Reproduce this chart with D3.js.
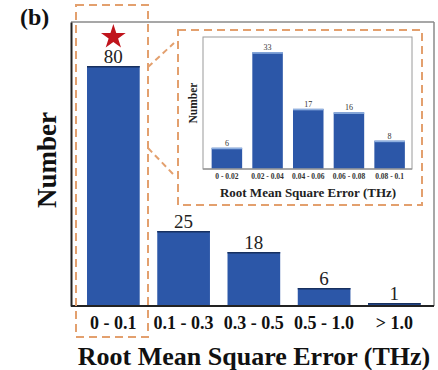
<!DOCTYPE html>
<html><head><meta charset="utf-8">
<script src="https://cdn.jsdelivr.net/npm/d3@7"></script>
<style>body{margin:0;background:#fff}svg{display:block}</style>
</head><body>
<svg id="c" width="438" height="370"></svg>
<script>
const mainCategories = ["0 - 0.1", "0.1 - 0.3", "0.3 - 0.5", "0.5 - 1.0", "> 1.0"];
const mainValues = [80, 25, 18, 6, 1];
const insetCategories = ["0 - 0.02", "0.02 - 0.04", "0.04 - 0.06", "0.06 - 0.08", "0.08 - 0.1"];
const insetValues = [6, 33, 17, 16, 8];

const svg = d3.select("#c");
const serif = "'Liberation Serif','Times New Roman',serif";
const barFill = "#2c57a8";
const orange = "#e3a06e";

// main plot
const L = 71, R = 434, T = 22, B = 306;
const x = d3.scaleBand().domain(mainCategories).range([L, 436.7]).paddingInner(0.25).paddingOuter(0.228);
const y = d3.scaleLinear().domain([0, 94.67]).range([B, T]);

// frame: top and right gray
svg.append("line").attr("x1", L).attr("x2", R).attr("y1", T).attr("y2", T).attr("stroke", "#8a8a8a").attr("stroke-width", 1.5);
svg.append("line").attr("x1", R).attr("x2", R).attr("y1", T).attr("y2", B).attr("stroke", "#8a8a8a").attr("stroke-width", 1.5);

// bars
svg.selectAll("rect.mb").data(mainValues).join("rect").attr("class", "mb")
  .attr("x", (d, i) => x(mainCategories[i])).attr("width", x.bandwidth())
  .attr("y", d => y(d)).attr("height", d => B - y(d)).attr("fill", barFill);
svg.selectAll("line.mt").data(mainValues).join("line").attr("class", "mt")
  .attr("x1", (d, i) => x(mainCategories[i])).attr("x2", (d, i) => x(mainCategories[i]) + x.bandwidth())
  .attr("y1", d => y(d) + 0.75).attr("y2", d => y(d) + 0.75).attr("stroke", "#17305f").attr("stroke-width", 1.5);
svg.selectAll("text.mv").data(mainValues).join("text").attr("class", "mv")
  .attr("x", (d, i) => x(mainCategories[i]) + x.bandwidth() / 2).attr("y", d => y(d) - 3)
  .attr("text-anchor", "middle").attr("font-family", serif).attr("font-size", 19).attr("fill", "#222").text(d => d);

// axes
const xAxis = svg.append("g").attr("transform", `translate(0,${B})`)
  .call(d3.axisBottom(x).tickSize(0).tickPadding(10));
xAxis.select(".domain").attr("stroke", "#222").attr("stroke-width", 2).attr("d", `M${L},0H${R}`);
xAxis.selectAll("text").attr("font-family", serif).attr("font-weight", "bold").attr("font-size", 18).attr("fill", "#111");
const yAxis = svg.append("g").attr("transform", `translate(${L},0)`).call(d3.axisLeft(y).tickValues([]).tickSize(0));
yAxis.select(".domain").attr("stroke", "#222").attr("stroke-width", 2);

svg.append("text").attr("transform", "translate(56,160) rotate(-90)").attr("text-anchor", "middle")
  .attr("font-family", serif).attr("font-weight", "bold").attr("font-size", 27).attr("fill", "#111").text("Number");
svg.append("text").attr("x", 254).attr("y", 365).attr("text-anchor", "middle")
  .attr("font-family", serif).attr("font-weight", "bold").attr("font-size", 26).attr("fill", "#111").text("Root Mean Square Error (THz)");
svg.append("text").attr("x", 20).attr("y", 25).attr("font-family", serif).attr("font-weight", "bold").attr("font-size", 24).attr("fill", "#111").text("(b)");

// star
const sx = x(mainCategories[0]) + x.bandwidth() / 2;
svg.append("path").attr("d", d3.symbol().type(d3.symbolStar).size(190)()).attr("transform", `translate(${sx},37)`).attr("fill", "#c0141c");

// dashed highlight boxes
const dash = "8,5";
svg.append("rect").attr("x", 76).attr("y", 5).attr("width", 72).attr("height", 332).attr("fill", "none")
  .attr("stroke", orange).attr("stroke-width", 2).attr("stroke-dasharray", dash);
svg.append("line").attr("x1", 148).attr("y1", 67).attr("x2", 174).attr("y2", 43).attr("stroke", orange).attr("stroke-width", 2).attr("stroke-dasharray", "6,4");
svg.append("line").attr("x1", 148).attr("y1", 148).attr("x2", 174).attr("y2", 175).attr("stroke", orange).attr("stroke-width", 2).attr("stroke-dasharray", "6,4");

// inset
const iL = 203, iR = 412, iT = 37, iB = 169;
svg.append("rect").attr("x", 178).attr("y", 30).attr("width", 244).attr("height", 175).attr("fill", "#fff").attr("stroke", "none");
svg.append("rect").attr("x", iL).attr("y", iT).attr("width", iR - iL).attr("height", iB - iT).attr("fill", "none").attr("stroke", "#9a9a9a").attr("stroke-width", 1);
const ix = d3.scaleBand().domain(insetCategories).range([iL + 0.5, iR + 1]).paddingInner(0.25).paddingOuter(0.2);
const iy = d3.scaleLinear().domain([0, 37.3]).range([iB, iT]);
svg.selectAll("rect.ib").data(insetValues).join("rect").attr("class", "ib")
  .attr("x", (d, i) => ix(insetCategories[i])).attr("width", ix.bandwidth())
  .attr("y", d => iy(d)).attr("height", d => iB - iy(d)).attr("fill", barFill);
svg.selectAll("line.it").data(insetValues).join("line").attr("class", "it")
  .attr("x1", (d, i) => ix(insetCategories[i])).attr("x2", (d, i) => ix(insetCategories[i]) + ix.bandwidth())
  .attr("y1", d => iy(d) + 0.75).attr("y2", d => iy(d) + 0.75).attr("stroke", "#8fb0e0").attr("stroke-width", 1.5);
svg.selectAll("text.iv").data(insetValues).join("text").attr("class", "iv")
  .attr("x", (d, i) => ix(insetCategories[i]) + ix.bandwidth() / 2).attr("y", d => iy(d) - 2)
  .attr("text-anchor", "middle").attr("font-family", serif).attr("font-size", 8).attr("fill", "#333").text(d => d);
const ixa = svg.append("g").attr("transform", `translate(0,${iB})`).call(d3.axisBottom(ix).tickSize(0).tickPadding(5));
ixa.select(".domain").attr("stroke", "#9a9a9a").attr("stroke-width", 1.5).attr("d", `M${iL},0H${iR}`);
ixa.selectAll("text").attr("font-family", serif).attr("font-weight", "bold").attr("font-size", 7.5).attr("fill", "#333");
svg.append("text").attr("transform", "translate(197,103) rotate(-90)").attr("text-anchor", "middle")
  .attr("font-family", serif).attr("font-weight", "bold").attr("font-size", 11.5).attr("fill", "#222").text("Number");
svg.append("text").attr("x", 308).attr("y", 197).attr("text-anchor", "middle")
  .attr("font-family", serif).attr("font-weight", "bold").attr("font-size", 13).attr("fill", "#222").text("Root Mean Square Error (THz)");
svg.append("rect").attr("x", 178).attr("y", 30).attr("width", 244).attr("height", 175).attr("fill", "none")
  .attr("stroke", orange).attr("stroke-width", 2).attr("stroke-dasharray", dash);
</script>
</body></html>
